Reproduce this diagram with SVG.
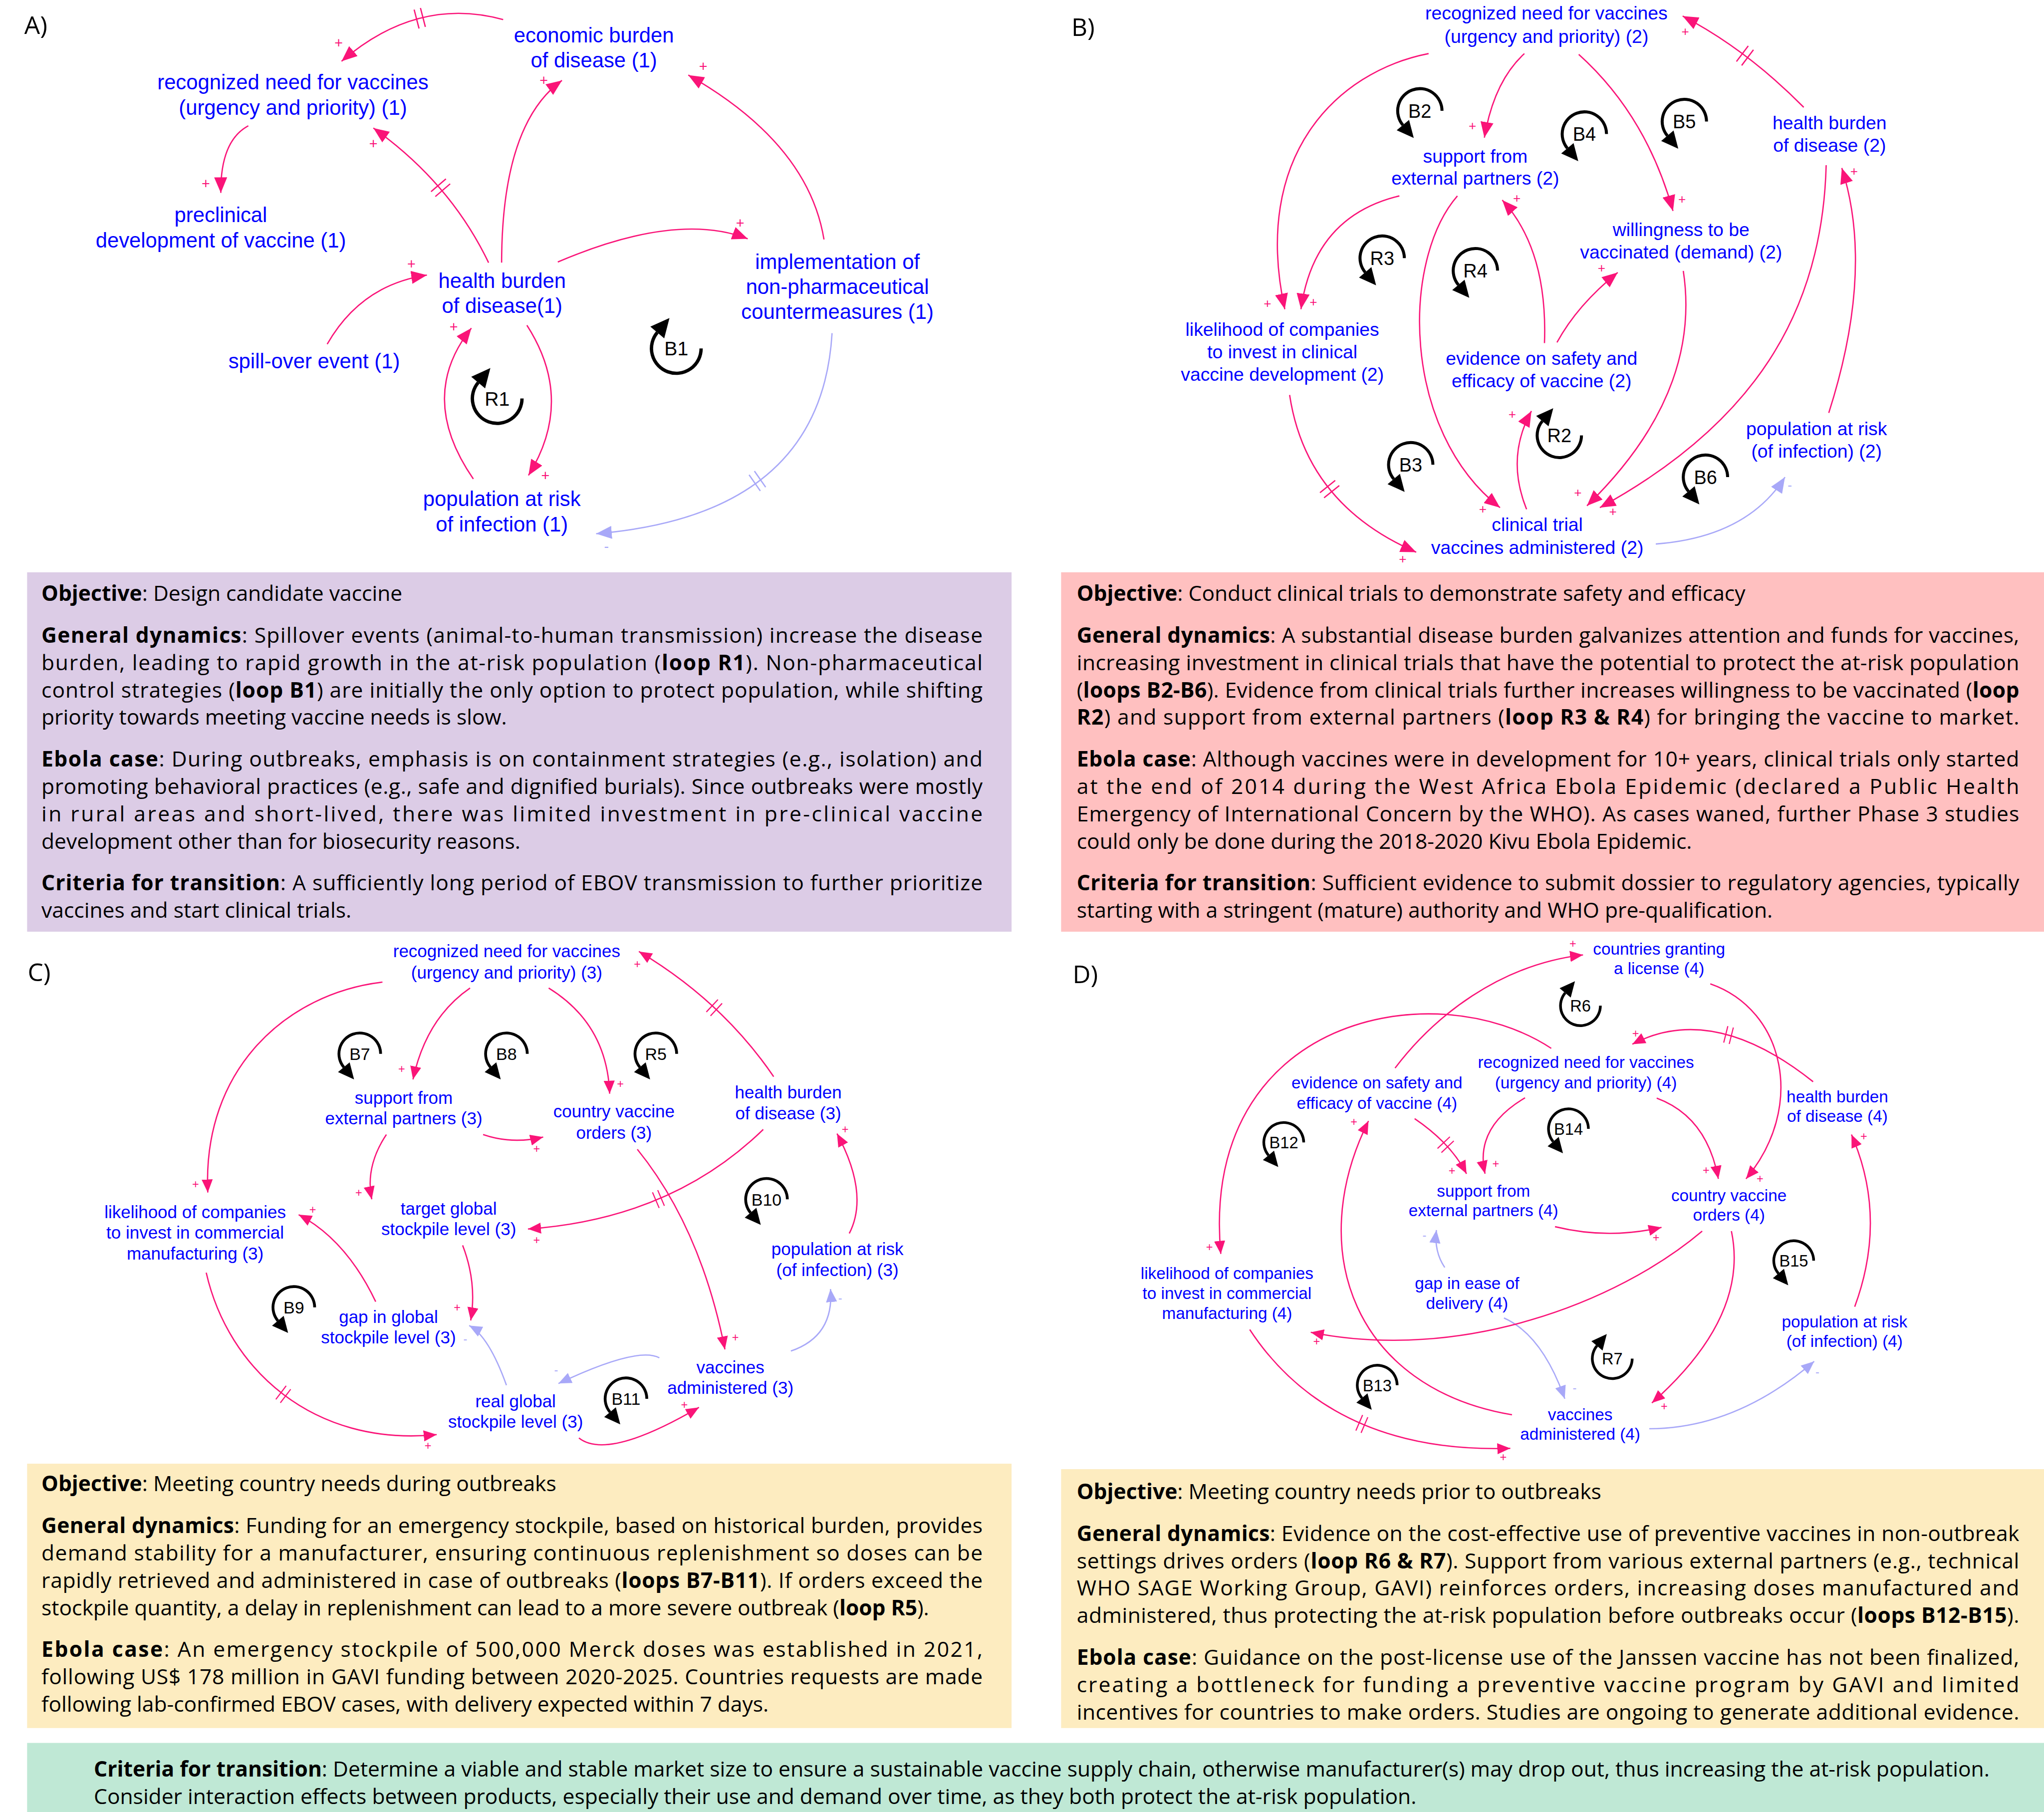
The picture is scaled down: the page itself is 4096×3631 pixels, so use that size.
<svg xmlns="http://www.w3.org/2000/svg" xmlns:xlink="http://www.w3.org/1999/xlink" width="4096" height="3631" viewBox="0 0 4096 3631">
<style>
.n{font-family:"Liberation Sans",Arial,sans-serif;fill:#0000FF;text-anchor:middle}
.nA{font-size:16px}.nB{font-size:14.3px}.nC{font-size:13.4px}.nD{font-size:12.75px}
.lp{fill:none;stroke:#000;stroke-width:2.3}
.lh{fill:#000}
.lt{font-family:"Liberation Sans",Arial,sans-serif;fill:#000;text-anchor:middle}
.p{fill:none;stroke:#FA1478;stroke-width:1}
.m{fill:none;stroke:#A8A8F8;stroke-width:1}
.dp{fill:none;stroke:#FA1478;stroke-width:1}
.dm{fill:none;stroke:#A8A8F8;stroke-width:1}
.sp{font-family:"Liberation Sans",Arial,sans-serif;fill:#FA1478;text-anchor:middle}
.sm{font-family:"Liberation Sans",Arial,sans-serif;fill:#A8A8F8;text-anchor:middle}
.bx{font-family:"Open Sans","Noto Sans",sans-serif;font-size:16.3px;fill:#000}
.b{font-weight:bold}
.pl{font-family:"Open Sans","Liberation Sans",sans-serif;font-size:19px;fill:#000}
</style>
<defs>
<marker id="ap" viewBox="0 0 12 10" refX="12" refY="5" markerWidth="12" markerHeight="10" markerUnits="userSpaceOnUse" orient="auto"><path d="M0,0 L12,5 L0,10 z" fill="#FA1478"/></marker>
<marker id="an" viewBox="0 0 12 10" refX="12" refY="5" markerWidth="12" markerHeight="10" markerUnits="userSpaceOnUse" orient="auto"><path d="M0,0 L12,5 L0,10 z" fill="#A8A8F8"/></marker>
<marker id="aps" viewBox="0 0 10 8.5" refX="10" refY="4.25" markerWidth="10" markerHeight="8.5" markerUnits="userSpaceOnUse" orient="auto"><path d="M0,0 L10,4.25 L0,8.5 z" fill="#FA1478"/></marker>
<marker id="ans" viewBox="0 0 10 8.5" refX="10" refY="4.25" markerWidth="10" markerHeight="8.5" markerUnits="userSpaceOnUse" orient="auto"><path d="M0,0 L10,4.25 L0,8.5 z" fill="#A8A8F8"/></marker>
<g id="ccw"><path d="M17,0 A17,17 0 1 0 -13.02,10.93" class="lp"/><polygon points="-8.27,6.94 -17.77,14.92 -4.66,20.89" class="lh"/></g>
<g id="cw"><path d="M17,0 A17,17 0 1 1 -13.02,-10.93" class="lp"/><polygon points="-8.27,-6.94 -17.77,-14.92 -4.66,-20.89" class="lh"/></g>
<g id="dl"><line x1="-2.5" y1="-7.5" x2="-2.5" y2="7.5"/><line x1="2.5" y1="-7.5" x2="2.5" y2="7.5"/></g>
</defs>
<rect x="0" y="0" width="4096" height="3631" fill="#FFFFFF"/>
<g transform="scale(2.61224)">

<!-- text boxes -->
<g id="boxA">
<rect x="20.8" y="439" width="755.2" height="275.7" fill="#DCCCE6"/>
<text class="bx" x="31.8" y="461"><tspan class="b">Objective</tspan>: Design candidate vaccine</text>
<text class="bx" x="31.8" y="493" textLength="722" lengthAdjust="spacing"><tspan class="b">General dynamics</tspan>: Spillover events (animal-to-human transmission) increase the disease</text>
<text class="bx" x="31.8" y="514" textLength="722" lengthAdjust="spacing">burden, leading to rapid growth in the at-risk population (<tspan class="b">loop R1</tspan>). Non-pharmaceutical</text>
<text class="bx" x="31.8" y="535" textLength="722" lengthAdjust="spacing">control strategies (<tspan class="b">loop B1</tspan>) are initially the only option to protect population, while shifting</text>
<text class="bx" x="31.8" y="556">priority towards meeting vaccine needs is slow.</text>
<text class="bx" x="31.8" y="588" textLength="722" lengthAdjust="spacing"><tspan class="b">Ebola case</tspan>: During outbreaks, emphasis is on containment strategies (e.g., isolation) and</text>
<text class="bx" x="31.8" y="609" textLength="722" lengthAdjust="spacing">promoting behavioral practices (e.g., safe and dignified burials). Since outbreaks were mostly</text>
<text class="bx" x="31.8" y="630" textLength="722" lengthAdjust="spacing">in rural areas and short-lived, there was limited investment in pre-clinical vaccine</text>
<text class="bx" x="31.8" y="651">development other than for biosecurity reasons.</text>
<text class="bx" x="31.8" y="683" textLength="722" lengthAdjust="spacing"><tspan class="b">Criteria for transition</tspan>: A sufficiently long period of EBOV transmission to further prioritize</text>
<text class="bx" x="31.8" y="704">vaccines and start clinical trials.</text>
</g>
<g id="boxB">
<rect x="814" y="439" width="754" height="275.7" fill="#FFC0C0"/>
<text class="bx" x="826" y="461"><tspan class="b">Objective</tspan>: Conduct clinical trials to demonstrate safety and efficacy</text>
<text class="bx" x="826" y="493" textLength="723" lengthAdjust="spacing"><tspan class="b">General dynamics</tspan>: A substantial disease burden galvanizes attention and funds for vaccines,</text>
<text class="bx" x="826" y="514" textLength="723" lengthAdjust="spacing">increasing investment in clinical trials that have the potential to protect the at-risk population</text>
<text class="bx" x="826" y="535" textLength="723" lengthAdjust="spacing">(<tspan class="b">loops B2-B6</tspan>). Evidence from clinical trials further increases willingness to be vaccinated (<tspan class="b">loop</tspan></text>
<text class="bx" x="826" y="556" textLength="723" lengthAdjust="spacing"><tspan class="b">R2</tspan>) and support from external partners (<tspan class="b">loop R3 &amp; R4</tspan>) for bringing the vaccine to market.</text>
<text class="bx" x="826" y="588" textLength="723" lengthAdjust="spacing"><tspan class="b">Ebola case</tspan>: Although vaccines were in development for 10+ years, clinical trials only started</text>
<text class="bx" x="826" y="609" textLength="723" lengthAdjust="spacing">at the end of 2014 during the West Africa Ebola Epidemic (declared a Public Health</text>
<text class="bx" x="826" y="630" textLength="723" lengthAdjust="spacing">Emergency of International Concern by the WHO). As cases waned, further Phase 3 studies</text>
<text class="bx" x="826" y="651">could only be done during the 2018-2020 Kivu Ebola Epidemic.</text>
<text class="bx" x="826" y="683" textLength="723" lengthAdjust="spacing"><tspan class="b">Criteria for transition</tspan>: Sufficient evidence to submit dossier to regulatory agencies, typically</text>
<text class="bx" x="826" y="704">starting with a stringent (mature) authority and WHO pre-qualification.</text>
</g>
<g id="boxC">
<rect x="20.8" y="1122.8" width="755.2" height="202.8" fill="#FDECC0"/>
<text class="bx" x="31.8" y="1144"><tspan class="b">Objective</tspan>: Meeting country needs during outbreaks</text>
<text class="bx" x="31.8" y="1176" textLength="722" lengthAdjust="spacing"><tspan class="b">General dynamics</tspan>: Funding for an emergency stockpile, based on historical burden, provides</text>
<text class="bx" x="31.8" y="1197" textLength="722" lengthAdjust="spacing">demand stability for a manufacturer, ensuring continuous replenishment so doses can be</text>
<text class="bx" x="31.8" y="1218" textLength="722" lengthAdjust="spacing">rapidly retrieved and administered in case of outbreaks (<tspan class="b">loops B7-B11</tspan>). If orders exceed the</text>
<text class="bx" x="31.8" y="1239">stockpile quantity, a delay in replenishment can lead to a more severe outbreak (<tspan class="b">loop R5</tspan>).</text>
<text class="bx" x="31.8" y="1271" textLength="722" lengthAdjust="spacing"><tspan class="b">Ebola case</tspan>: An emergency stockpile of 500,000 Merck doses was established in 2021,</text>
<text class="bx" x="31.8" y="1292" textLength="722" lengthAdjust="spacing">following US$ 178 million in GAVI funding between 2020-2025. Countries requests are made</text>
<text class="bx" x="31.8" y="1313">following lab-confirmed EBOV cases, with delivery expected within 7 days.</text>
</g>
<g id="boxD">
<rect x="814" y="1127" width="754" height="198.6" fill="#FDECC0"/>
<text class="bx" x="826" y="1150"><tspan class="b">Objective</tspan>: Meeting country needs prior to outbreaks</text>
<text class="bx" x="826" y="1182" textLength="723" lengthAdjust="spacing"><tspan class="b">General dynamics</tspan>: Evidence on the cost-effective use of preventive vaccines in non-outbreak</text>
<text class="bx" x="826" y="1203" textLength="723" lengthAdjust="spacing">settings drives orders (<tspan class="b">loop R6 &amp; R7</tspan>). Support from various external partners (e.g., technical</text>
<text class="bx" x="826" y="1224" textLength="723" lengthAdjust="spacing">WHO SAGE Working Group, GAVI) reinforces orders, increasing doses manufactured and</text>
<text class="bx" x="826" y="1245" textLength="723" lengthAdjust="spacing">administered, thus protecting the at-risk population before outbreaks occur (<tspan class="b">loops B12-B15</tspan>).</text>
<text class="bx" x="826" y="1277" textLength="723" lengthAdjust="spacing"><tspan class="b">Ebola case</tspan>: Guidance on the post-license use of the Janssen vaccine has not been finalized,</text>
<text class="bx" x="826" y="1298" textLength="723" lengthAdjust="spacing">creating a bottleneck for funding a preventive vaccine program by GAVI and limited</text>
<text class="bx" x="826" y="1319" textLength="723" lengthAdjust="spacing">incentives for countries to make orders. Studies are ongoing to generate additional evidence.</text>
</g>
<g id="boxE">
<rect x="20.8" y="1337" width="1547.2" height="53" fill="#BFE8D5"/>
<text class="bx" x="72" y="1363"><tspan class="b">Criteria for transition</tspan>: Determine a viable and stable market size to ensure a sustainable vaccine supply chain, otherwise manufacturer(s) may drop out, thus increasing the at-risk population.</text>
<text class="bx" x="72" y="1384">Consider interaction effects between products, especially their use and demand over time, as they both protect the at-risk population.</text>
</g>

<!-- panel labels -->
<text class="pl" x="18.7" y="26">A)</text>
<text class="pl" x="821.9" y="27.4">B)</text>
<text class="pl" x="21.2" y="752.7">C)</text>
<text class="pl" x="822.9" y="754">D)</text>

<!-- connectors -->
<g id="connectors">
<!-- A -->
<path class="p" marker-end="url(#ap)" d="M386,15 Q320,-3 262,47"/>
<path class="p" marker-end="url(#ap)" d="M190.5,96.5 Q169,108 169.4,148"/>
<path class="p" marker-end="url(#ap)" d="M374.8,201.5 Q345.4,140.2 286.4,98.2"/>
<path class="p" marker-end="url(#ap)" d="M384.8,201.5 Q385,95 431.1,61.7"/>
<path class="p" marker-end="url(#ap)" d="M427.9,201 Q519,162 573.6,183.2"/>
<path class="p" marker-end="url(#ap)" d="M632.1,183.7 Q620,110 528,57.6"/>
<path class="p" marker-end="url(#ap)" d="M251,264 Q277,218.5 327.5,211"/>
<path class="p" marker-end="url(#ap)" d="M363.1,367.4 Q319.6,304.4 361.6,251.7"/>
<path class="p" marker-end="url(#ap)" d="M404.2,249.5 Q441.2,307 405.4,364.7"/>
<path class="m" marker-end="url(#an)" d="M638.3,255.6 Q630,395 457.3,409.4"/>
<use href="#dl" class="dp" transform="translate(322,14) rotate(165.5)"/>
<use href="#dl" class="dp" transform="translate(338,144) rotate(49.4)"/>
<use href="#dl" class="dm" transform="translate(581,369) rotate(145)"/>
<!-- B -->
<path class="p" marker-end="url(#ap)" d="M1095.9,41.1 C1025,55 960,120 985.6,237.2"/>
<path class="p" marker-end="url(#ap)" d="M1073.5,150.3 Q1008,166 998,237.2"/>
<path class="p" marker-end="url(#ap)" d="M1169.4,41.1 Q1146,62.6 1138.7,105.6"/>
<path class="p" marker-end="url(#ap)" d="M1211.1,41.7 Q1262.8,88.2 1283.4,161.8"/>
<path class="p" marker-end="url(#ap)" d="M1118,150.3 C1075,200 1075,330 1150.7,389.4"/>
<path class="p" marker-end="url(#ap)" d="M1184.8,263.2 Q1187.4,191.6 1152.4,153.5"/>
<path class="p" marker-end="url(#ap)" d="M1194.4,262.7 Q1210,234 1241,209"/>
<path class="p" marker-end="url(#ap)" d="M1171.1,390.7 Q1155,351 1174.8,315.3"/>
<path class="p" marker-end="url(#ap)" d="M1291.3,207.8 Q1305.6,302 1217.4,388"/>
<path class="p" marker-end="url(#ap)" d="M1400.9,126.7 C1398,240 1345,325 1227.3,389.4"/>
<path class="p" marker-end="url(#ap)" d="M989.3,303 Q1002,387 1086.4,423.6"/>
<path class="p" marker-end="url(#ap)" d="M1383.7,82.3 Q1340,38 1290.8,12.3"/>
<path class="p" marker-end="url(#ap)" d="M1402.9,316.7 Q1438,207 1412.9,128.9"/>
<path class="m" marker-end="url(#an)" d="M1270.2,417.3 Q1340,412 1369.3,366"/>
<use href="#dl" class="dp" transform="translate(1020,375.2) rotate(51.2)"/>
<use href="#dl" class="dp" transform="translate(1338.6,42.7) rotate(-143)"/>
<!-- C -->
<path class="p" marker-end="url(#aps)" d="M293.4,753.4 C220,762 155,820 159.4,914.8"/>
<path class="p" marker-end="url(#aps)" d="M360.6,757.9 Q327,781 316.8,828"/>
<path class="p" marker-end="url(#aps)" d="M420.9,757.9 Q465.7,785.6 467.7,839"/>
<path class="p" marker-end="url(#aps)" d="M593.5,825.9 Q554,768 490.1,729.9"/>
<path class="p" marker-end="url(#aps)" d="M370.6,870.3 Q393,878 416.7,872.2"/>
<path class="p" marker-end="url(#aps)" d="M296.4,870.3 Q280,895 285.2,920"/>
<path class="p" marker-end="url(#aps)" d="M585.5,866.4 Q515,935 405,942.8"/>
<path class="p" marker-end="url(#aps)" d="M488.9,881.6 Q537.5,941.6 556.1,1035.1"/>
<path class="p" marker-end="url(#aps)" d="M651.5,946.2 Q667,916 642.1,869.6"/>
<path class="m" marker-end="url(#ans)" d="M606.7,1036.4 Q640,1025 637.1,988.8"/>
<path class="m" marker-end="url(#ans)" d="M505.8,1041.6 Q489,1032.6 428.4,1061.3"/>
<path class="p" marker-end="url(#aps)" d="M444.1,1103.1 Q466,1120.6 536.2,1079.6"/>
<path class="m" marker-end="url(#ans)" d="M388.5,1062.6 Q375,1025 359.9,1016.8"/>
<path class="p" marker-end="url(#aps)" d="M354.9,955.3 Q366,984 361.1,1012.9"/>
<path class="p" marker-end="url(#aps)" d="M288.2,998.5 Q265.4,950.8 229.1,931.8"/>
<path class="p" marker-end="url(#aps)" d="M158.2,976.3 C175,1050 240,1110 335,1100.5"/>
<use href="#dl" class="dp" transform="translate(547.9,773) rotate(-137.1) scale(0.87)"/>
<use href="#dl" class="dp" transform="translate(505.1,919.8) rotate(157) scale(0.87)"/>
<use href="#dl" class="dp" transform="translate(217.3,1069.6) rotate(37.3) scale(0.87)"/>
<!-- D -->
<path class="p" marker-end="url(#aps)" d="M1070.2,819.3 C1100,780 1150,740 1214.4,732.5"/>
<path class="p" marker-end="url(#aps)" d="M1312,754.7 C1370,775 1385,850 1339.4,904.3"/>
<path class="p" marker-end="url(#aps)" d="M1390.9,829.8 Q1314,768.6 1252.2,801"/>
<path class="p" marker-end="url(#aps)" d="M1169.9,842.1 Q1131,865 1139.2,900.4"/>
<path class="p" marker-end="url(#aps)" d="M1270.9,842.4 Q1309.4,856.6 1318.2,904.3"/>
<path class="p" marker-end="url(#aps)" d="M1085.2,858.1 Q1113,877 1125,900.4"/>
<path class="p" marker-end="url(#aps)" d="M1192.9,941 Q1234,951 1274.6,941.5"/>
<path class="m" marker-end="url(#ans)" d="M1108.3,972.3 Q1100,960 1101.9,943.6"/>
<path class="m" marker-end="url(#ans)" d="M1153.7,1011 Q1183,1024 1200.4,1073"/>
<path class="p" marker-end="url(#aps)" d="M1305.8,944.4 C1240,1000 1120,1045 1005.5,1022"/>
<path class="p" marker-end="url(#aps)" d="M1328.2,944.4 Q1342,1010 1267.2,1076.2"/>
<path class="p" marker-end="url(#aps)" d="M1159.9,1085.3 C1040,1065 1000,960 1049.8,859.9"/>
<path class="p" marker-end="url(#aps)" d="M958.7,1019.9 C985,1060 1040,1115 1158.6,1111"/>
<path class="p" marker-end="url(#aps)" d="M1422.8,1002.4 Q1448,934 1420.3,870.3"/>
<path class="m" marker-end="url(#ans)" d="M1265.2,1096 Q1331.6,1095.8 1391.7,1044.3"/>
<path class="p" marker-end="url(#aps)" d="M1190,804.2 C1100,745 920,780 936.5,961.9"/>
<use href="#dl" class="dp" transform="translate(1326,794) rotate(-166) scale(0.87)"/>
<use href="#dl" class="dp" transform="translate(1109,878.1) rotate(46.7) scale(0.87)"/>
<use href="#dl" class="dp" transform="translate(1044.7,1092.3) rotate(23.2) scale(0.87)"/>
</g>

<!-- polarity signs -->
<g id="signs">
<g font-size="11">
<text class="sp" x="259.8" y="36.6">+</text>
<text class="sp" x="157.9" y="144.6">+</text>
<text class="sp" x="286.4" y="114.1">+</text>
<text class="sp" x="417.1" y="65.3">+</text>
<text class="sp" x="567.8" y="175">+</text>
<text class="sp" x="539.4" y="54.9">+</text>
<text class="sp" x="315.6" y="206.5">+</text>
<text class="sp" x="348" y="254.5">+</text>
<text class="sp" x="418.4" y="368.8">+</text>
<text class="sm" x="465.2" y="423.1">-</text>
</g>
<g font-size="10">
<text class="sp" x="972.3" y="236.3">+</text>
<text class="sp" x="1007.5" y="235">+</text>
<text class="sp" x="1129.5" y="99.8">+</text>
<text class="sp" x="1290.3" y="156.3">+</text>
<text class="sp" x="1137.5" y="394">+</text>
<text class="sp" x="1163.6" y="155.5">+</text>
<text class="sp" x="1228.6" y="208.9">+</text>
<text class="sp" x="1160.1" y="321.3">+</text>
<text class="sp" x="1210.4" y="381.1">+</text>
<text class="sp" x="1237.3" y="396">+</text>
<text class="sp" x="1076" y="432.3">+</text>
<text class="sp" x="1292.8" y="27.4">+</text>
<text class="sp" x="1422.3" y="134.9">+</text>
<text class="sm" x="1373" y="375.7">-</text>
</g>
<g font-size="9">
<text class="sp" x="150" y="911.3">+</text>
<text class="sp" x="308.1" y="823.1">+</text>
<text class="sp" x="475.9" y="834.6">+</text>
<text class="sp" x="488.9" y="742.6">+</text>
<text class="sp" x="411.7" y="884.3">+</text>
<text class="sp" x="275.2" y="917.8">+</text>
<text class="sp" x="411.7" y="954.4">+</text>
<text class="sp" x="564.1" y="1028.9">+</text>
<text class="sp" x="648.3" y="869.4">+</text>
<text class="sp" x="525" y="1080.7">+</text>
<text class="sp" x="350.7" y="1005.9">+</text>
<text class="sp" x="239.9" y="930.9">+</text>
<text class="sp" x="328.3" y="1112.1">+</text>
<text class="sm" x="644.5" y="998.9">-</text>
<text class="sm" x="426.6" y="1053.8">-</text>
<text class="sm" x="356.9" y="1030.3">-</text>
<text class="sp" x="1206.6" y="726.9">+</text>
<text class="sp" x="1350.1" y="907.3">+</text>
<text class="sp" x="1254.7" y="795.7">+</text>
<text class="sp" x="1147.4" y="895.6">+</text>
<text class="sp" x="1308.8" y="900.8">+</text>
<text class="sp" x="1113.8" y="901.3">+</text>
<text class="sp" x="1270.4" y="952.6">+</text>
<text class="sp" x="1010" y="1032.1">+</text>
<text class="sp" x="1276.6" y="1081.8">+</text>
<text class="sp" x="1038.6" y="863.7">+</text>
<text class="sp" x="1153.2" y="1121">+</text>
<text class="sp" x="1429.8" y="874.6">+</text>
<text class="sp" x="927.8" y="959.6">+</text>
<text class="sm" x="1092.7" y="950.5">-</text>
<text class="sm" x="1207.9" y="1067.6">-</text>
<text class="sm" x="1394.2" y="1055.6">-</text>
</g>
</g>

<!-- loops -->
<g id="loops">
<g id="loopR1"><use href="#cw" transform="translate(381.4,305.7) scale(1.12)"/><text class="lt" font-size="15" x="381.4" y="311.1">R1</text></g>
<g id="loopB1"><use href="#cw" transform="translate(518.8,267.3) scale(1.12)"/><text class="lt" font-size="15" x="518.8" y="272.7">B1</text></g>
<g id="loopB2"><use href="#ccw" transform="translate(1089.2,85)"/><text class="lt" font-size="14.5" x="1089.2" y="90.2">B2</text></g>
<g id="loopR3"><use href="#ccw" transform="translate(1060.3,198)"/><text class="lt" font-size="14.5" x="1060.3" y="203.2">R3</text></g>
<g id="loopR4"><use href="#ccw" transform="translate(1131.8,207.6)"/><text class="lt" font-size="14.5" x="1131.8" y="212.8">R4</text></g>
<g id="loopB3"><use href="#ccw" transform="translate(1082.2,356.5)"/><text class="lt" font-size="14.5" x="1082.2" y="361.7">B3</text></g>
<g id="loopR2"><use href="#cw" transform="translate(1196.2,334)"/><text class="lt" font-size="14.5" x="1196.2" y="339.2">R2</text></g>
<g id="loopB4"><use href="#ccw" transform="translate(1215.4,102.8)"/><text class="lt" font-size="14.5" x="1215.4" y="108">B4</text></g>
<g id="loopB5"><use href="#ccw" transform="translate(1292.1,93.2)"/><text class="lt" font-size="14.5" x="1292.1" y="98.4">B5</text></g>
<g id="loopB6"><use href="#ccw" transform="translate(1308.3,366)"/><text class="lt" font-size="14.5" x="1308.3" y="371.2">B6</text></g>
<g id="loopB7"><use href="#ccw" transform="translate(276,808.4) scale(0.94)"/><text class="lt" font-size="13" x="276" y="813.1">B7</text></g>
<g id="loopB8"><use href="#ccw" transform="translate(388.5,808.4) scale(0.94)"/><text class="lt" font-size="13" x="388.5" y="813.1">B8</text></g>
<g id="loopR5"><use href="#ccw" transform="translate(503.1,808.4) scale(0.94)"/><text class="lt" font-size="13" x="503.1" y="813.1">R5</text></g>
<g id="loopB10"><use href="#ccw" transform="translate(588,920) scale(0.94)"/><text class="lt" font-size="13" x="588" y="924.7">B10</text></g>
<g id="loopB9"><use href="#ccw" transform="translate(225.4,1002.9) scale(0.94)"/><text class="lt" font-size="13" x="225.4" y="1007.6">B9</text></g>
<g id="loopB11"><use href="#ccw" transform="translate(480.2,1073) scale(0.94)"/><text class="lt" font-size="13" x="480.2" y="1077.7">B11</text></g>
<g id="loopR6"><use href="#cw" transform="translate(1212.4,771.5) scale(0.9)"/><text class="lt" font-size="12.5" x="1212.4" y="776">R6</text></g>
<g id="loopB12"><use href="#ccw" transform="translate(984.8,876.4) scale(0.9)"/><text class="lt" font-size="12.5" x="984.8" y="880.9">B12</text></g>
<g id="loopB14"><use href="#ccw" transform="translate(1203.2,865.9) scale(0.9)"/><text class="lt" font-size="12.5" x="1203.2" y="870.4">B14</text></g>
<g id="loopB15"><use href="#ccw" transform="translate(1376,967.1) scale(0.9)"/><text class="lt" font-size="12.5" x="1376" y="971.6">B15</text></g>
<g id="loopB13"><use href="#ccw" transform="translate(1056.5,1062.6) scale(0.9)"/><text class="lt" font-size="12.5" x="1056.5" y="1067.1">B13</text></g>
<g id="loopR7"><use href="#cw" transform="translate(1236.8,1042.2) scale(0.9)"/><text class="lt" font-size="12.5" x="1236.8" y="1046.7">R7</text></g>
</g>

<!-- nodes A -->
<g id="A_need"><text class="n nA" x="224.7" y="68.5">recognized need for vaccines</text><text class="n nA" x="224.7" y="88">(urgency and priority) (1)</text></g>
<g id="A_preclin"><text class="n nA" x="169.4" y="170.5">preclinical</text><text class="n nA" x="169.4" y="189.7">development of vaccine (1)</text></g>
<g id="A_spill"><text class="n nA" x="241" y="282.4">spill-over event (1)</text></g>
<g id="A_health"><text class="n nA" x="385.2" y="220.7">health burden</text><text class="n nA" x="385.2" y="240">of disease(1)</text></g>
<g id="A_pop"><text class="n nA" x="385" y="388">population at risk</text><text class="n nA" x="385" y="407.7">of infection (1)</text></g>
<g id="A_econ"><text class="n nA" x="455.6" y="32.4">economic burden</text><text class="n nA" x="455.6" y="51.5">of disease (1)</text></g>
<g id="A_npi"><text class="n nA" x="642.4" y="206.2">implementation of</text><text class="n nA" x="642.4" y="225.4">non-pharmaceutical</text><text class="n nA" x="642.4" y="244.6">countermeasures (1)</text></g>

<!-- nodes B -->
<g id="B_need"><text class="n nB" x="1186.3" y="15.1">recognized need for vaccines</text><text class="n nB" x="1186.3" y="32.9">(urgency and priority) (2)</text></g>
<g id="B_support"><text class="n nB" x="1131.7" y="124.8">support from</text><text class="n nB" x="1131.7" y="141.8">external partners (2)</text></g>
<g id="B_likely"><text class="n nB" x="983.7" y="257.7">likelihood of companies</text><text class="n nB" x="983.7" y="275">to invest in clinical</text><text class="n nB" x="983.7" y="292">vaccine development (2)</text></g>
<g id="B_will"><text class="n nB" x="1289.6" y="181">willingness to be</text><text class="n nB" x="1289.6" y="198.2">vaccinated (demand) (2)</text></g>
<g id="B_evid"><text class="n nB" x="1182.6" y="279.7">evidence on safety and</text><text class="n nB" x="1182.6" y="297">efficacy of vaccine (2)</text></g>
<g id="B_health"><text class="n nB" x="1403.5" y="99.3">health burden</text><text class="n nB" x="1403.5" y="116.5">of disease (2)</text></g>
<g id="B_pop"><text class="n nB" x="1393.5" y="334">population at risk</text><text class="n nB" x="1393.5" y="351">(of infection) (2)</text></g>
<g id="B_trial"><text class="n nB" x="1179.3" y="407.2">clinical trial</text><text class="n nB" x="1179.3" y="425">vaccines administered (2)</text></g>

<!-- nodes C -->
<g id="C_need"><text class="n nC" x="388.7" y="734.3">recognized need for vaccines</text><text class="n nC" x="388.7" y="750.6">(urgency and priority) (3)</text></g>
<g id="C_support"><text class="n nC" x="309.7" y="846.8">support from</text><text class="n nC" x="309.7" y="862.5">external partners (3)</text></g>
<g id="C_orders"><text class="n nC" x="471" y="857.3">country vaccine</text><text class="n nC" x="471" y="873.5">orders (3)</text></g>
<g id="C_health"><text class="n nC" x="604.7" y="842.4">health burden</text><text class="n nC" x="604.7" y="858.6">of disease (3)</text></g>
<g id="C_likely"><text class="n nC" x="149.7" y="934.4">likelihood of companies</text><text class="n nC" x="149.7" y="950.1">to invest in commercial</text><text class="n nC" x="149.7" y="966.3">manufacturing (3)</text></g>
<g id="C_target"><text class="n nC" x="344.2" y="931.8">target global</text><text class="n nC" x="344.2" y="947.5">stockpile level (3)</text></g>
<g id="C_pop"><text class="n nC" x="642.4" y="962.7">population at risk</text><text class="n nC" x="642.4" y="978.9">(of infection) (3)</text></g>
<g id="C_gap"><text class="n nC" x="298" y="1015">gap in global</text><text class="n nC" x="298" y="1030.7">stockpile level (3)</text></g>
<g id="C_real"><text class="n nC" x="395.5" y="1079.6">real global</text><text class="n nC" x="395.5" y="1095.3">stockpile level (3)</text></g>
<g id="C_vacc"><text class="n nC" x="560.3" y="1053.4">vaccines</text><text class="n nC" x="560.3" y="1069.1">administered (3)</text></g>

<!-- nodes D -->
<g id="D_license"><text class="n nD" x="1272.7" y="732.5">countries granting</text><text class="n nD" x="1272.7" y="747.4">a license (4)</text></g>
<g id="D_need"><text class="n nD" x="1216.6" y="819.3">recognized need for vaccines</text><text class="n nD" x="1216.6" y="835">(urgency and priority) (4)</text></g>
<g id="D_health"><text class="n nD" x="1409.5" y="845.5">health burden</text><text class="n nD" x="1409.5" y="860.7">of disease (4)</text></g>
<g id="D_evid"><text class="n nD" x="1056.3" y="835">evidence on safety and</text><text class="n nD" x="1056.3" y="850.7">efficacy of vaccine (4)</text></g>
<g id="D_support"><text class="n nD" x="1138" y="917.9">support from</text><text class="n nD" x="1138" y="933.1">external partners (4)</text></g>
<g id="D_orders"><text class="n nD" x="1326.3" y="921.3">country vaccine</text><text class="n nD" x="1326.3" y="936.5">orders (4)</text></g>
<g id="D_likely"><text class="n nD" x="941.3" y="981">likelihood of companies</text><text class="n nD" x="941.3" y="996.4">to invest in commercial</text><text class="n nD" x="941.3" y="1011.6">manufacturing (4)</text></g>
<g id="D_gap"><text class="n nD" x="1125.4" y="988.8">gap in ease of</text><text class="n nD" x="1125.4" y="1004.2">delivery (4)</text></g>
<g id="D_pop"><text class="n nD" x="1415" y="1018.1">population at risk</text><text class="n nD" x="1415" y="1033.3">(of infection) (4)</text></g>
<g id="D_vacc"><text class="n nD" x="1212.2" y="1089.5">vaccines</text><text class="n nD" x="1212.2" y="1104.4">administered (4)</text></g>
</g>
</svg>
